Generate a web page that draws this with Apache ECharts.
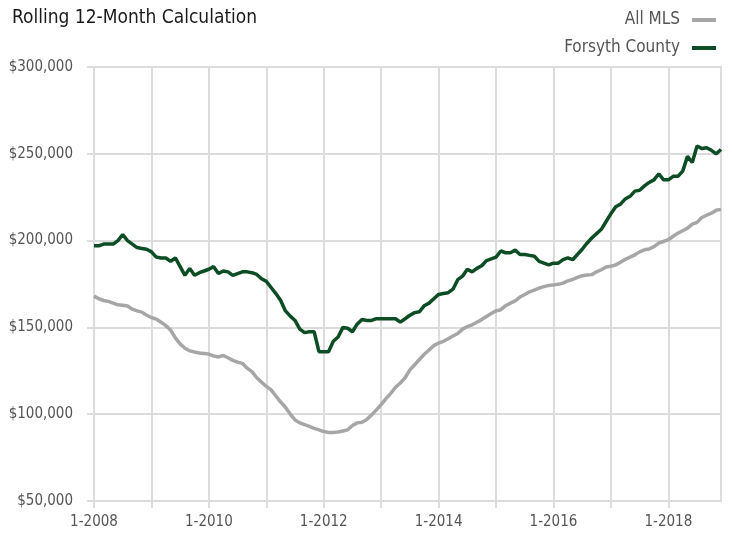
<!DOCTYPE html>
<html>
<head>
<meta charset="utf-8">
<script src="https://cdn.jsdelivr.net/npm/echarts@6/dist/echarts.min.js"></script>
<style>
  html, body { margin: 0; padding: 0; background: #fff; }
  #chart { width: 732px; height: 533px; }
</style>
</head>
<body>
<div id="chart"></div>
<script>
// months 1-2008 .. 12-2018
const years = [2008, 2009, 2010, 2011, 2012, 2013, 2014, 2015, 2016, 2017, 2018];
const months = [];
years.forEach(y => { for (let m = 1; m <= 12; m++) months.push(m + '-' + y); });

// rolling 12-month median price, in $ thousands
const allMls = [
  168, 166.5, 165.5, 165, 164, 163, 162.7, 162.3, 160.5, 159.5, 158.8, 157,
  155.7, 154.8, 153, 151, 148.5, 144, 140.5, 138, 136.5, 135.8, 135.3, 135,
  134.6, 133.5, 133, 133.8, 132.5, 131, 130, 129.3, 126.5, 124.5, 121, 118.5,
  116, 114, 110.5, 107, 104, 100, 96.7, 95, 94, 93, 91.8, 91,
  90, 89.5, 89.5, 89.7, 90.3, 91, 93.5, 95, 95.4, 97, 99.6, 102.5,
  105.5, 109, 112, 115.5, 118, 121, 125.5, 128.5, 131.5, 134.5, 137, 139.5,
  141, 142, 143.5, 145, 146.5, 149, 150.5, 151.5, 153, 154.5, 156.3, 158,
  159.5, 160.2, 162.5, 164, 165.3, 167.5, 169, 170.5, 171.5, 172.6, 173.5, 174.2,
  174.5, 174.8, 175.5, 176.8, 177.6, 178.8, 179.8, 180.2, 180.4, 182, 183.2, 184.8,
  185.2, 186, 187.5, 189.2, 190.5, 191.8, 193.5, 194.7, 195.2, 196.5, 198.6, 199.5,
  200.5, 202.5, 204.3, 205.7, 207.2, 209.5, 210.5, 213.3, 214.6, 215.8, 217.5, 218
];
const forsyth = [
  197, 197, 198, 198, 198, 200, 203.5, 200, 198, 196, 195.5, 195,
  193.5, 190.5, 190, 190, 188, 190, 185, 180, 184, 180, 181.5, 182.5,
  183.5, 185, 181, 182.5, 182, 180, 181, 182, 182, 181.5, 180.5, 178,
  176.5, 173, 169.5, 165.5, 159.5, 156.5, 154, 149, 147, 147.5, 147.5, 136,
  136, 136, 142, 144.5, 150, 149.5, 147.5, 152, 154.5, 154, 154, 155,
  155, 155, 155, 155, 153, 155, 157, 158.5, 159, 162.5, 164, 166.5,
  169, 169.5, 170, 172, 177.5, 179.5, 183.5, 182, 184, 185.5, 188.5, 189.5,
  190.5, 194, 193, 193, 194.5, 192, 192, 191.5, 191, 188, 187, 186,
  187, 187, 189, 190, 189, 192, 195, 198.5, 201.5, 204, 206.5, 211,
  215.5, 219.5, 221, 224, 225.5, 228.5, 229, 231.5, 233.5, 235, 238.5, 235,
  235, 237, 237, 240, 248.5, 245, 254.5, 253, 253.5, 252, 250, 252.5
];

const FONT = '"DejaVu Sans Condensed", "Liberation Sans Narrow", sans-serif';
const GRID = '#dcdcdc';

const chart = echarts.init(document.getElementById('chart'));
chart.setOption({
  animation: false,
  backgroundColor: '#fff',
  title: {
    text: 'Rolling 12-Month Calculation',
    left: 7,
    top: 4,
    textStyle: { fontFamily: FONT, fontSize: 19, fontWeight: 'normal', color: '#1a1a1a' }
  },
  legend: {
    orient: 'vertical',
    right: 11,
    top: 5,
    align: 'right',
    icon: 'rect',
    itemWidth: 24,
    itemHeight: 4,
    itemGap: 8,
    textStyle: { fontFamily: FONT, fontSize: 17, color: '#555', lineHeight: 20, padding: [0, 7, 0, 0] },
    data: ['All MLS', 'Forsyth County']
  },
  grid: {
    left: 94,
    right: 11,
    top: 67,
    bottom: 32,
    show: true,
    borderColor: GRID,
    borderWidth: 2
  },
  xAxis: {
    type: 'category',
    data: months,
    boundaryGap: false,
    axisLine: { show: false },
    axisTick: { show: true, interval: 11, length: 7, lineStyle: { color: GRID, width: 2 } },
    splitLine: { show: true, interval: 11, lineStyle: { color: GRID, width: 2 } },
    axisLabel: {
      interval: 23,
      margin: 14,
      fontFamily: FONT,
      fontSize: 15,
      color: '#555'
    }
  },
  yAxis: {
    type: 'value',
    min: 50000,
    max: 300000,
    interval: 50000,
    axisLine: { show: false },
    axisTick: { show: true, length: 7, lineStyle: { color: GRID, width: 2 } },
    splitLine: { lineStyle: { color: GRID, width: 2 } },
    axisLabel: {
      margin: 21,
      fontFamily: FONT,
      fontSize: 15,
      color: '#555',
      formatter: v => '$' + String(v).replace(/\B(?=(\d{3})+(?!\d))/g, ',')
    }
  },
  series: [
    {
      name: 'All MLS',
      type: 'line',
      data: allMls.map(v => v * 1000),
      showSymbol: false,
      color: '#a6a6a6',
      lineStyle: { color: '#a6a6a6', width: 3.5 }
    },
    {
      name: 'Forsyth County',
      type: 'line',
      data: forsyth.map(v => v * 1000),
      showSymbol: false,
      color: '#0d4d24',
      lineStyle: { color: '#0d4d24', width: 3.5 }
    }
  ]
});
</script>
</body>
</html>
